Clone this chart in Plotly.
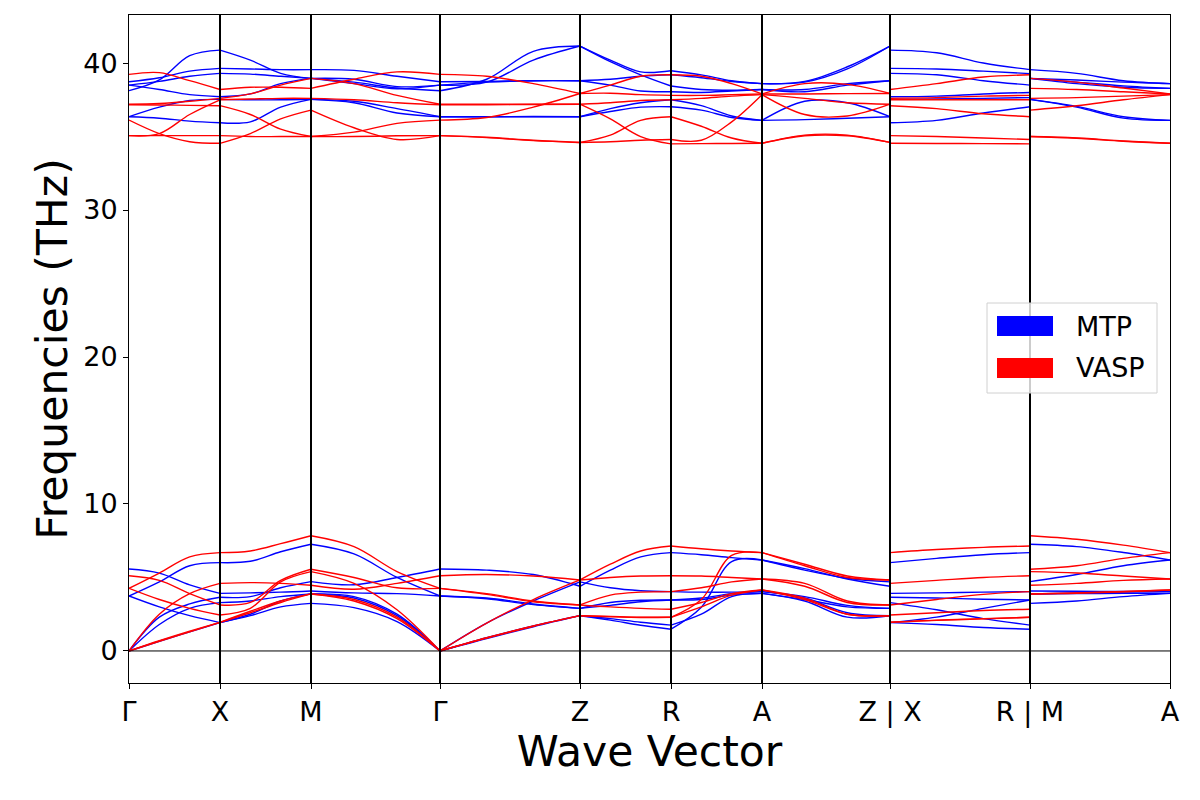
import plotly.graph_objects as go

# ---------------- data ----------------
K_LABELS = ["Γ", "X", "M", "Γ", "Z", "R", "A", "Z | X", "R | M", "A"]
K_POS = [0.0, 0.91, 1.82, 3.11, 4.51, 5.42, 6.33, 7.61, 9.01, 10.41]
# segments as (start index, end index) into K_POS
SEGMENTS = [(0, 1), (1, 2), (2, 3), (3, 4), (4, 5), (5, 6), (6, 7), (7, 8), (8, 9)]
FRACS = [0.0, 1 / 3, 2 / 3, 1.0]

# each band: values (THz) at 0, 1/3, 2/3, 1 of the segment
MTP_G_X = [[0, 0.66, 1.3, 1.93], [0, 2.3, 3.2, 3.65], [0, 1.8, 2.9, 3.29],
           [3.74, 3.0, 2.4, 1.93], [3.74, 4.7, 5.8, 6.01], [5.58, 5.3, 4.5, 3.92],
           [38.12, 38.85, 40.5, 40.88], [38.73, 39.0, 39.45, 39.64], [38.5, 38.75, 39.1, 39.3],
           [38.5, 38.2, 37.85, 37.71], [36.35, 37.0, 37.45, 37.53], [36.35, 36.25, 36.05, 35.94]]
VASP_G_X = [[0, 0.66, 1.3, 1.95], [0, 0.7, 1.35, 1.95], [0, 2.5, 3.9, 4.6],
            [4.26, 5.3, 6.4, 6.69], [5.12, 4.8, 3.9, 3.13], [4.26, 3.5, 2.9, 2.45],
            [39.23, 39.35, 38.8, 38.2], [37.2, 37.25, 37.4, 37.6], [37.16, 37.15, 37.12, 37.1],
            [36.12, 35.2, 34.65, 34.54], [35.06, 35.06, 35.06, 35.06], [35.06, 35.2, 36.5, 37.5]]

MTP_X_M = [[6.01, 6.1, 6.75, 7.26], [3.92, 3.95, 4.0, 4.08], [3.65, 3.7, 4.3, 4.72],
           [3.29, 3.4, 3.7, 3.88], [1.93, 2.5, 3.4, 3.88], [1.93, 2.4, 3.0, 3.24],
           [40.88, 40.2, 39.3, 38.96], [39.64, 39.6, 39.55, 39.55], [39.3, 39.25, 39.1, 38.96],
           [37.71, 37.9, 38.6, 38.96], [37.53, 37.5, 37.5, 37.53], [35.94, 36.0, 37.0, 37.53]]
VASP_X_M = [[6.69, 6.8, 7.3, 7.84], [4.6, 4.65, 4.6, 4.47], [3.13, 3.3, 4.8, 5.56],
            [2.45, 2.9, 4.7, 5.4], [1.95, 2.7, 3.4, 3.88], [1.95, 2.6, 3.3, 3.88],
            [38.2, 38.35, 38.35, 38.28], [37.6, 37.9, 38.5, 38.96], [37.5, 37.55, 37.6, 37.6],
            [37.1, 36.5, 35.5, 35.0], [34.54, 35.2, 36.2, 36.8], [35.06, 35.0, 35.0, 35.0]]

MTP_M_G = [[7.26, 6.6, 5.0, 3.74], [4.72, 4.5, 5.0, 5.58], [4.08, 3.95, 3.9, 3.74],
           [3.88, 3.7, 2.5, 0], [3.88, 3.6, 2.4, 0], [3.24, 2.95, 2.0, 0],
           [39.55, 39.5, 39.1, 38.73], [38.96, 38.9, 38.4, 38.5], [38.96, 38.6, 38.25, 38.5],
           [38.96, 38.7, 38.3, 38.12], [37.53, 37.4, 36.9, 36.35], [37.53, 37.3, 36.6, 36.35]]
VASP_M_G = [[7.84, 7.1, 5.4, 4.26], [4.47, 4.2, 4.6, 5.12], [5.56, 5.0, 4.3, 4.26],
            [5.4, 4.6, 2.8, 0], [3.88, 3.5, 2.3, 0], [3.88, 3.4, 2.2, 0],
            [38.28, 38.9, 39.4, 39.23], [38.96, 38.6, 37.8, 37.2], [37.6, 37.5, 37.3, 37.16],
            [36.8, 35.6, 34.8, 35.06], [35.0, 35.3, 35.9, 36.12], [35.0, 35.0, 35.05, 35.06]]

MTP_G_Z = [[0, 1.9, 3.4, 4.7], [0, 0.9, 1.7, 2.4], [0, 0.85, 1.65, 2.4],
           [3.74, 3.6, 3.2, 2.9], [3.74, 3.55, 3.15, 2.9], [5.58, 5.5, 5.2, 4.4],
           [38.12, 38.9, 40.8, 41.16], [38.5, 38.7, 40.2, 41.16], [38.73, 38.75, 38.8, 38.8],
           [38.5, 38.7, 38.8, 38.8], [36.35, 36.35, 36.35, 36.35], [36.35, 36.35, 36.36, 36.35]]
VASP_G_Z = [[0, 1.9, 3.5, 4.83], [0, 0.9, 1.7, 2.4], [0, 0.88, 1.68, 2.4],
            [4.26, 3.9, 3.4, 3.13], [4.26, 3.85, 3.35, 3.13], [5.12, 5.2, 5.1, 4.83],
            [39.23, 39.1, 38.6, 37.93], [36.12, 36.3, 37.0, 37.93], [37.2, 37.2, 37.2, 37.2],
            [37.16, 37.16, 37.18, 37.2], [35.06, 34.95, 34.75, 34.6], [35.06, 34.93, 34.72, 34.6]]

MTP_Z_R = [[4.4, 5.5, 6.4, 6.69], [4.7, 4.3, 4.1, 4.04], [2.9, 3.3, 3.45, 3.47],
           [2.9, 3.1, 3.35, 3.47], [2.4, 2.2, 1.95, 1.76], [2.4, 2.1, 1.75, 1.48],
           [41.16, 40.2, 39.4, 39.48], [41.16, 40.1, 39.2, 38.44], [38.8, 38.9, 39.1, 39.2],
           [38.8, 38.5, 38.1, 38.05], [36.35, 36.9, 37.3, 37.5], [36.35, 36.7, 37.0, 37.03]]
VASP_Z_R = [[4.83, 5.9, 6.8, 7.14], [4.83, 5.0, 5.1, 5.12], [3.13, 3.8, 4.0, 4.04],
            [3.13, 3.0, 2.9, 2.84], [2.4, 2.35, 2.3, 2.29], [2.4, 2.33, 2.28, 2.29],
            [37.93, 38.5, 39.1, 39.2], [37.93, 37.95, 37.85, 37.8], [37.2, 37.3, 37.45, 37.5],
            [37.2, 36.2, 35.0, 34.5], [34.6, 35.1, 36.1, 36.35], [34.6, 34.65, 34.75, 34.8]]

MTP_R_A = [[6.69, 6.55, 6.35, 6.19], [1.48, 2.97, 6.08, 6.19], [4.04, 4.0, 4.0, 4.04],
           [3.47, 3.6, 3.9, 4.04], [3.47, 3.5, 3.8, 3.92], [1.76, 2.5, 3.7, 3.92],
           [39.48, 39.2, 38.8, 38.6], [39.2, 39.0, 38.75, 38.6], [38.44, 38.2, 38.15, 38.2],
           [38.05, 38.0, 38.1, 38.2], [37.5, 37.1, 36.4, 36.1], [37.03, 36.8, 36.3, 36.1]]
VASP_R_A = [[7.14, 6.95, 6.8, 6.69], [2.29, 3.5, 6.5, 6.69], [5.12, 5.1, 5.0, 4.9],
            [4.04, 4.3, 4.7, 4.9], [2.84, 3.3, 3.9, 4.15], [2.29, 3.0, 3.8, 4.15],
            [39.2, 39.1, 38.6, 37.9], [37.8, 37.8, 37.85, 37.9], [37.5, 37.6, 37.75, 37.85],
            [36.35, 35.7, 34.9, 34.54], [34.8, 34.75, 36.0, 37.85], [34.5, 34.52, 34.53, 34.54]]

MTP_A_Z = [[6.19, 5.6, 4.9, 4.4], [6.19, 5.5, 4.95, 4.7], [4.04, 3.7, 3.1, 2.9],
           [3.92, 3.5, 3.0, 2.9], [3.92, 3.4, 2.3, 2.4], [4.04, 3.6, 2.6, 2.4],
           [38.6, 38.75, 39.75, 41.16], [38.6, 38.7, 39.6, 41.16], [38.2, 38.05, 38.5, 38.8],
           [38.2, 38.2, 38.6, 38.8], [36.1, 37.4, 37.3, 36.35], [36.1, 36.15, 36.25, 36.35]]
VASP_A_Z = [[6.69, 5.9, 5.1, 4.83], [6.69, 5.8, 5.0, 4.83], [4.9, 4.6, 3.4, 3.13],
            [4.9, 4.4, 3.3, 3.13], [4.15, 3.6, 2.5, 2.4], [4.15, 3.5, 2.5, 2.4],
            [37.9, 38.6, 38.55, 37.93], [37.85, 36.5, 36.4, 37.2], [37.9, 37.9, 37.92, 37.93],
            [37.85, 37.6, 37.3, 37.2], [34.54, 35.1, 35.1, 34.6], [34.54, 35.05, 35.05, 34.6]]

MTP_X_R = [[6.01, 6.3, 6.55, 6.69], [3.92, 3.95, 4.0, 4.04], [3.65, 3.6, 3.52, 3.47],
           [3.29, 2.8, 2.2, 1.76], [1.93, 1.8, 1.6, 1.48], [1.93, 2.3, 2.9, 3.47],
           [40.88, 40.7, 40.0, 39.55], [39.64, 39.6, 39.45, 39.28], [39.3, 39.2, 38.8, 38.5],
           [37.71, 37.75, 37.9, 38.0], [37.53, 37.55, 37.6, 37.65], [35.94, 36.1, 36.6, 37.03]]
VASP_X_R = [[6.69, 6.9, 7.05, 7.14], [4.6, 4.8, 5.0, 5.12], [3.13, 3.5, 3.85, 4.04],
            [2.45, 2.6, 2.75, 2.84], [1.95, 2.1, 2.2, 2.29], [1.95, 2.08, 2.18, 2.29],
            [38.2, 38.6, 39.05, 39.2], [37.6, 37.65, 37.75, 37.8], [37.5, 37.5, 37.5, 37.5],
            [37.1, 36.9, 36.55, 36.35], [35.06, 35.0, 34.9, 34.8], [34.54, 34.53, 34.52, 34.5]]

MTP_M_A = [[7.26, 7.1, 6.7, 6.19], [4.72, 5.2, 5.8, 6.19], [4.08, 4.06, 4.05, 4.04],
           [3.88, 3.95, 4.0, 4.04], [3.88, 3.9, 3.92, 3.92], [3.24, 3.4, 3.7, 3.92],
           [39.55, 39.3, 38.8, 38.6], [38.96, 38.85, 38.7, 38.6], [38.96, 38.7, 38.45, 38.28],
           [38.96, 38.6, 38.35, 38.28], [37.53, 37.0, 36.25, 36.1], [37.53, 37.05, 36.35, 36.1]]
VASP_M_A = [[7.84, 7.6, 7.2, 6.69], [5.56, 5.8, 6.3, 6.69], [5.4, 5.3, 5.1, 4.9],
            [4.47, 4.6, 4.8, 4.9], [3.88, 3.95, 4.05, 4.15], [3.88, 3.93, 4.03, 4.15],
            [38.96, 38.7, 38.3, 37.9], [38.28, 38.2, 38.05, 37.9], [37.6, 37.65, 37.75, 37.85],
            [36.8, 37.1, 37.5, 37.85], [35.0, 34.9, 34.7, 34.54], [35.0, 34.88, 34.68, 34.54]]

MTP_BANDS = [MTP_G_X, MTP_X_M, MTP_M_G, MTP_G_Z, MTP_Z_R, MTP_R_A, MTP_A_Z, MTP_X_R, MTP_M_A]
VASP_BANDS = [VASP_G_X, VASP_X_M, VASP_M_G, VASP_G_Z, VASP_Z_R, VASP_R_A, VASP_A_Z, VASP_X_R, VASP_M_A]
SERIES = [("MTP", "#0000ff", MTP_BANDS), ("VASP", "#ff0000", VASP_BANDS)]

Y_TICKS = [0, 10, 20, 30, 40]
Y_RANGE = [-2.18, 43.27]

# ---------------- figure ----------------
W, H = 1200, 800
OFF = 8  # page body margin in the browser
L, R, T, B = 121, 38, 7, 125
PW, PH = W - L - R, H - T - B


def px_x(x):
    return (x - OFF - L) / PW


def px_y(y):
    return (H - B - (y - OFF)) / PH


fig = go.Figure()
for name, color, segs in SERIES:
    for (i0, i1), bands in zip(SEGMENTS, segs):
        xs = [K_POS[i0] + (K_POS[i1] - K_POS[i0]) * f for f in FRACS]
        for vals in bands:
            fig.add_trace(go.Scatter(
                x=xs, y=vals, mode="lines",
                line=dict(color=color, width=1.4, shape="spline", smoothing=1.0),
                showlegend=False, hoverinfo="skip", name=name))

shapes = []
# zero line
shapes.append(dict(type="line", xref="paper", yref="y", x0=0, x1=1, y0=0, y1=0,
                   line=dict(color="black", width=1), layer="above"))
# high-symmetry vertical lines
for xv in K_POS[1:-1]:
    shapes.append(dict(type="line", xref="x", yref="paper", x0=xv, x1=xv, y0=0, y1=1,
                       line=dict(color="black", width=2), layer="above"))

# legend (drawn manually to mimic patch handles)
shapes.append(dict(type="rect", xref="paper", yref="paper",
                   x0=px_x(987), x1=px_x(1157), y0=px_y(393), y1=px_y(303),
                   fillcolor="rgba(255,255,255,0.8)", line=dict(color="#d0d0d0", width=1),
                   layer="above"))
annotations = []
for (name, color, _), yc in zip(SERIES, [326, 368]):
    shapes.append(dict(type="rect", xref="paper", yref="paper",
                       x0=px_x(997), x1=px_x(1053), y0=px_y(yc + 10), y1=px_y(yc - 10),
                       fillcolor=color, line=dict(width=0), layer="above"))
    annotations.append(dict(xref="paper", yref="paper", x=px_x(1074), y=px_y(yc),
                            text=name, showarrow=False, xanchor="left", yanchor="middle",
                            font=dict(size=27, color="black")))

fig.update_layout(
    width=W, height=H,
    margin=dict(l=L, r=R, t=T, b=B, pad=0),
    paper_bgcolor="white", plot_bgcolor="white",
    font=dict(family="DejaVu Sans", color="black"),
    shapes=shapes, annotations=annotations,
    showlegend=False,
)
fig.update_xaxes(
    range=[K_POS[0], K_POS[-1]], tickmode="array", tickvals=K_POS, ticktext=K_LABELS,
    showgrid=False, zeroline=False, showline=True, mirror=True, linecolor="black", linewidth=1,
    ticks="outside", ticklen=5, tickwidth=1, tickcolor="black",
    tickfont=dict(size=27, color="black"),
    title=dict(text="Wave Vector", font=dict(size=42.5, color="black"), standoff=6),
    automargin=False,
)
fig.update_yaxes(
    range=Y_RANGE, tickmode="array", tickvals=Y_TICKS,
    showgrid=False, zeroline=False, showline=True, mirror=True, linecolor="black", linewidth=1,
    ticks="outside", ticklen=5, tickwidth=1, tickcolor="black",
    tickfont=dict(size=27, color="black"),
    title=dict(text="Frequencies (THz)", font=dict(size=42.5, color="black"), standoff=2),
    automargin=False,
)

fig.write_html("out.html")
